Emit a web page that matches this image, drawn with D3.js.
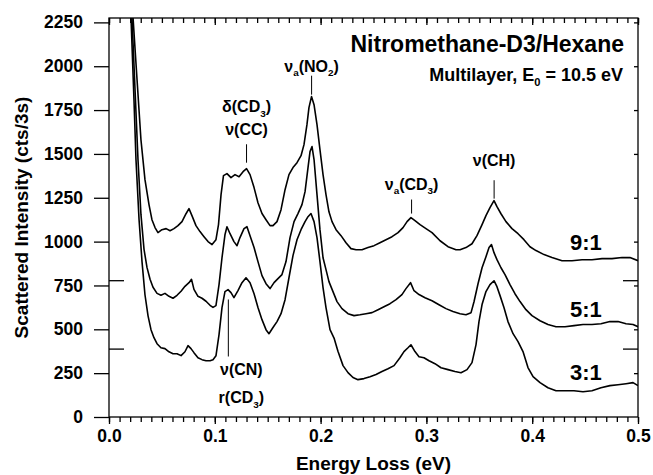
<!DOCTYPE html>
<html>
<head>
<meta charset="utf-8">
<script src="https://cdn.jsdelivr.net/npm/d3@7"></script>
<style>
  body { margin: 0; background: #fff; }
  text { font-family: "Liberation Sans", Arial, Helvetica, sans-serif; font-weight: bold; fill: #000; }
</style>
</head>
<body>
<script>
// energy loss (eV) and intensity (cts/3s) as plotted, one pair of arrays per mixture
const e9 = [0.018, 0.0227, 0.0265, 0.0302, 0.034, 0.0378, 0.0406, 0.0435, 0.0463, 0.050, 0.054, 0.0577, 0.0614, 0.0652, 0.069, 0.0728, 0.0756, 0.0784, 0.0822, 0.086, 0.0898, 0.0936, 0.0974, 0.1011, 0.1035, 0.1059, 0.1082, 0.1115, 0.1153, 0.1191, 0.1229, 0.1267, 0.13, 0.1333, 0.1371, 0.1408, 0.1446, 0.1484, 0.1522, 0.155, 0.1588, 0.1626, 0.1664, 0.1701, 0.1739, 0.1777, 0.1815, 0.1843, 0.1871, 0.189, 0.1914, 0.1938, 0.1966, 0.1994, 0.2023, 0.2051, 0.2079, 0.2108, 0.2146, 0.2193, 0.224, 0.2287, 0.2335, 0.2391, 0.2448, 0.2505, 0.2561, 0.2618, 0.2675, 0.2732, 0.2779, 0.2817, 0.2854, 0.2892, 0.294, 0.2996, 0.3053, 0.3129, 0.3204, 0.328, 0.3318, 0.3374, 0.3431, 0.3478, 0.3526, 0.3563, 0.3601, 0.3639, 0.3667, 0.3705, 0.3752, 0.3809, 0.3866, 0.3922, 0.3979, 0.4036, 0.4112, 0.4187, 0.4282, 0.4376, 0.4471, 0.4565, 0.466, 0.4754, 0.4849, 0.4924, 0.5]
const i9 = [2700, 2278, 1924, 1581, 1353, 1211, 1125, 1080, 1051, 1068, 1074, 1062, 1074, 1091, 1114, 1159, 1188, 1148, 1091, 1057, 1028, 1000, 983, 1011, 1097, 1268, 1376, 1388, 1365, 1382, 1370, 1399, 1416, 1382, 1308, 1222, 1160, 1125, 1091, 1091, 1114, 1182, 1296, 1382, 1422, 1450, 1490, 1553, 1667, 1764, 1827, 1781, 1667, 1524, 1382, 1268, 1170, 1114, 1068, 1034, 994, 960, 954, 954, 966, 977, 994, 1011, 1028, 1051, 1080, 1114, 1137, 1120, 1097, 1074, 1051, 1005, 971, 954, 954, 966, 988, 1034, 1097, 1148, 1194, 1234, 1199, 1159, 1114, 1074, 1045, 1011, 971, 949, 926, 909, 891, 891, 897, 897, 903, 903, 909, 909, 891]

const e5 = [0.017, 0.0217, 0.0246, 0.0274, 0.0302, 0.0331, 0.0359, 0.0388, 0.0416, 0.0454, 0.0491, 0.0529, 0.0567, 0.0605, 0.0643, 0.0681, 0.0718, 0.0756, 0.078, 0.0803, 0.0841, 0.0879, 0.0917, 0.0955, 0.0983, 0.1011, 0.104, 0.1068, 0.1096, 0.1115, 0.1144, 0.1181, 0.121, 0.1238, 0.1276, 0.1304, 0.1333, 0.1371, 0.1408, 0.1446, 0.1484, 0.1522, 0.156, 0.1597, 0.1635, 0.1673, 0.1711, 0.1749, 0.1786, 0.1824, 0.1853, 0.1881, 0.19, 0.1919, 0.1938, 0.1966, 0.1994, 0.2023, 0.2051, 0.2079, 0.2117, 0.2155, 0.2202, 0.2259, 0.2316, 0.2372, 0.2429, 0.2486, 0.2543, 0.2599, 0.2656, 0.2713, 0.2769, 0.2807, 0.285, 0.2883, 0.293, 0.2987, 0.3053, 0.3119, 0.3185, 0.3251, 0.3318, 0.3374, 0.3422, 0.345, 0.3488, 0.3526, 0.3563, 0.3592, 0.3615, 0.3639, 0.3667, 0.3705, 0.3743, 0.379, 0.3837, 0.3885, 0.3941, 0.3998, 0.4074, 0.4149, 0.4225, 0.431, 0.4395, 0.448, 0.4565, 0.465, 0.4735, 0.4811, 0.4887, 0.4953, 0.5]
const i5 = [2900, 2278, 1867, 1468, 1155, 956, 853, 785, 740, 705, 694, 705, 688, 677, 694, 717, 745, 766, 785, 728, 688, 677, 660, 637, 625, 635, 755, 908, 1039, 1085, 1045, 1000, 977, 1023, 1074, 1085, 1034, 966, 886, 806, 760, 732, 766, 789, 812, 886, 1023, 1114, 1160, 1211, 1285, 1422, 1513, 1542, 1468, 1268, 1068, 908, 840, 772, 715, 658, 618, 589, 578, 583, 589, 595, 612, 629, 646, 669, 698, 732, 766, 720, 698, 680, 663, 640, 618, 601, 589, 583, 595, 657, 760, 851, 914, 966, 983, 937, 897, 851, 812, 755, 703, 658, 612, 578, 549, 527, 515, 515, 521, 527, 527, 532, 544, 544, 532, 527, 515]

const e3 = [0.016, 0.0208, 0.0236, 0.0255, 0.0284, 0.0312, 0.034, 0.0369, 0.0397, 0.0425, 0.0454, 0.0491, 0.0529, 0.0567, 0.0605, 0.0643, 0.0681, 0.0718, 0.0747, 0.0775, 0.0803, 0.0841, 0.0879, 0.0917, 0.0955, 0.0983, 0.1011, 0.104, 0.1068, 0.1096, 0.1125, 0.1153, 0.1181, 0.1219, 0.1257, 0.1295, 0.1333, 0.1371, 0.1408, 0.1446, 0.1484, 0.1512, 0.155, 0.1588, 0.1626, 0.1664, 0.1701, 0.1739, 0.1777, 0.1815, 0.1853, 0.1881, 0.1909, 0.1938, 0.1966, 0.1994, 0.2023, 0.2051, 0.2089, 0.2127, 0.2164, 0.2212, 0.2259, 0.2306, 0.2353, 0.241, 0.2467, 0.2524, 0.258, 0.2637, 0.2694, 0.275, 0.2788, 0.2826, 0.2854, 0.2892, 0.293, 0.2977, 0.3025, 0.3081, 0.3138, 0.3204, 0.327, 0.3327, 0.3384, 0.3431, 0.3469, 0.3497, 0.3526, 0.3563, 0.3601, 0.3639, 0.3667, 0.3696, 0.3733, 0.3771, 0.3819, 0.3866, 0.3913, 0.396, 0.4008, 0.4074, 0.4149, 0.4225, 0.431, 0.4395, 0.448, 0.4565, 0.465, 0.4735, 0.4811, 0.4887, 0.4953, 0.5]
const i3 = [2800, 2278, 1810, 1468, 1126, 886, 697, 577, 498, 452, 418, 395, 390, 372, 361, 361, 350, 372, 407, 390, 367, 338, 327, 321, 321, 327, 349, 470, 624, 715, 726, 709, 681, 721, 766, 794, 766, 703, 624, 555, 498, 475, 510, 544, 589, 669, 794, 920, 1011, 1068, 1114, 1142, 1160, 1114, 1023, 886, 738, 624, 498, 450, 375, 293, 253, 225, 213, 219, 230, 242, 259, 275, 293, 338, 373, 395, 412, 373, 344, 338, 321, 304, 281, 270, 259, 252, 270, 310, 413, 544, 641, 715, 755, 777, 743, 692, 624, 544, 475, 430, 373, 282, 230, 196, 167, 150, 150, 150, 144, 150, 167, 179, 184, 190, 196, 179]

const ratios = ["9:1", "5:1", "3:1"]
const ratioLabelY = [954, 572, 213]   // intensity at each ratio label's baseline
const offsetMarks = [390, 780]        // baseline offsets marked on both y axes

const xTicks = [0, 0.1, 0.2, 0.3, 0.4, 0.5]
const yTicks = [0, 250, 500, 750, 1000, 1250, 1500, 1750, 2000, 2250]

// peak assignments: energy of the leader line, intensity at its two ends
const peaks = [
  { e: 0.130, lo: 1450, hi: 1555, lines: [[["δ(CD"], ["3", 1], [")"]], [["ν(CC)"]]] },
  { e: 0.1915, lo: 1838, hi: 1946, lines: [[["ν"], ["a", 1], ["(NO"], ["2", 1], [")"]]] },
  { e: 0.286, lo: 1160, hi: 1240, lines: [[["ν"], ["a", 1], ["(CD"], ["3", 1], [")"]]] },
  { e: 0.364, lo: 1245, hi: 1350, lines: [[["ν(CH)"]]] },
  { e: 0.1128, lo: 345, hi: 670, lines: [[["ν(CN)"]], [["r(CD"], ["3", 1], [")"]]] }
]
// where each label block sits relative to its leader line (px)
const labelPlace = [
  { up: true, gap: 9, dx: 0 },
  { up: true, gap: 4, dx: 0 },
  { up: true, gap: 10, dx: 0 },
  { up: true, gap: 14, dx: 0 },
  { up: false, gap: 19, dx: 13 }
]

const W = 653, H = 475
const margin = { top: 18, right: 15, bottom: 58, left: 109 }

const x = d3.scaleLinear().domain([0, 0.5]).range([margin.left, W - margin.right])
const y = d3.scaleLinear().domain([0, 2275]).range([H - margin.bottom, margin.top])

const svg = d3.select("body").append("svg").attr("width", W).attr("height", H)

svg.append("clipPath").attr("id", "plot")
  .append("rect")
  .attr("x", margin.left).attr("y", margin.top)
  .attr("width", W - margin.left - margin.right)
  .attr("height", H - margin.top - margin.bottom)

// axes
const styleAxis = g => {
  g.select(".domain").remove()
  g.selectAll("line").attr("stroke", "#000").attr("stroke-width", 1.3)
  g.selectAll("text").style("font-size", "17.5px")
}
const minor = d3.range(0, 0.5001, 0.01)

svg.append("g").attr("transform", `translate(0,${y(0)})`)
  .call(d3.axisBottom(x).tickValues(minor).tickSize(5).tickFormat(""))
  .call(styleAxis)
svg.append("g").attr("transform", `translate(0,${y(0)})`)
  .call(d3.axisBottom(x).tickValues(xTicks).tickSize(7).tickPadding(6).tickFormat(d3.format(".1f")))
  .call(styleAxis)
svg.append("g").attr("transform", `translate(0,${margin.top})`)
  .call(d3.axisTop(x).tickValues(minor).tickSize(-5).tickFormat(""))
  .call(styleAxis)
svg.append("g").attr("transform", `translate(0,${margin.top})`)
  .call(d3.axisTop(x).tickValues(xTicks).tickSize(-7).tickFormat(""))
  .call(styleAxis)
svg.append("g").attr("transform", `translate(${margin.left},0)`)
  .call(d3.axisLeft(y).tickValues(yTicks).tickSize(15).tickPadding(11).tickFormat(d3.format("d")))
  .call(styleAxis)
svg.append("g").attr("transform", `translate(${margin.left},0)`)
  .call(d3.axisRight(y).tickValues(offsetMarks).tickSize(15).tickFormat(""))
  .call(styleAxis)
svg.append("g").attr("transform", `translate(${W - margin.right},0)`)
  .call(d3.axisLeft(y).tickValues(yTicks.slice(1)).tickSize(4).tickFormat(""))
  .call(styleAxis)
svg.append("g").attr("transform", `translate(${W - margin.right},0)`)
  .call(d3.axisLeft(y).tickValues(offsetMarks).tickSize(15).tickFormat(""))
  .call(styleAxis)

svg.append("rect")
  .attr("x", margin.left).attr("y", margin.top)
  .attr("width", W - margin.left - margin.right)
  .attr("height", H - margin.top - margin.bottom)
  .attr("fill", "none").attr("stroke", "#000").attr("stroke-width", 1.3)

// spectra
const line = d3.line().x(d => x(d[0])).y(d => y(d[1]))
const spectra = [d3.zip(e9, i9), d3.zip(e5, i5), d3.zip(e3, i3)]

svg.append("g").attr("clip-path", "url(#plot)")
  .selectAll("path").data(spectra).enter().append("path")
  .attr("d", line)
  .attr("fill", "none")
  .attr("stroke", "#000")
  .attr("stroke-width", 1.6)
  .attr("stroke-linejoin", "round")

// text with subscripts: parts are [string, isSub]
function richText(g, px, py, parts, size, anchor) {
  const t = g.append("text").attr("x", px).attr("y", py)
    .attr("text-anchor", anchor || "middle").style("font-size", size + "px")
  let shifted = false
  parts.forEach(p => {
    const s = t.append("tspan").text(p[0])
    if (p[1] && !shifted) { s.attr("dy", size * 0.28).style("font-size", size * 0.62 + "px"); shifted = true }
    else if (!p[1] && shifted) { s.attr("dy", -size * 0.28); shifted = false }
    else if (p[1]) s.style("font-size", size * 0.62 + "px")
  })
  return t
}

const ann = svg.append("g")
peaks.forEach((p, i) => {
  const place = labelPlace[i]
  ann.append("line")
    .attr("x1", x(p.e)).attr("x2", x(p.e))
    .attr("y1", y(p.lo)).attr("y2", y(p.hi))
    .attr("stroke", "#000").attr("stroke-width", 1)
  const n = p.lines.length
  p.lines.forEach((parts, k) => {
    const base = place.up ? y(p.hi) - place.gap - (n - 1 - k) * 23 : y(p.lo) + place.gap + k * 28
    richText(ann, x(p.e) + place.dx, base, parts, 16)
  })
})

// ratio labels
svg.append("g").selectAll("text").data(ratios).enter().append("text")
  .attr("x", 570).attr("y", (d, i) => y(ratioLabelY[i]))
  .style("font-size", "22px")
  .text(d => d)

// titles
svg.append("text").attr("x", 624).attr("y", 52).attr("text-anchor", "end")
  .style("font-size", "23px").text("Nitromethane-D3/Hexane")
richText(svg, 623, 81, [["Multilayer, E"], ["0", 1], [" = 10.5 eV"]], 18, "end")

svg.append("text")
  .attr("x", x(0.25)).attr("y", 470).attr("text-anchor", "middle")
  .style("font-size", "19px").text("Energy Loss (eV)")
svg.append("text")
  .attr("transform", `translate(28,${(y(0) + y(2275)) / 2}) rotate(-90)`)
  .attr("text-anchor", "middle")
  .style("font-size", "19px").text("Scattered Intensity (cts/3s)")
</script>
</body>
</html>
